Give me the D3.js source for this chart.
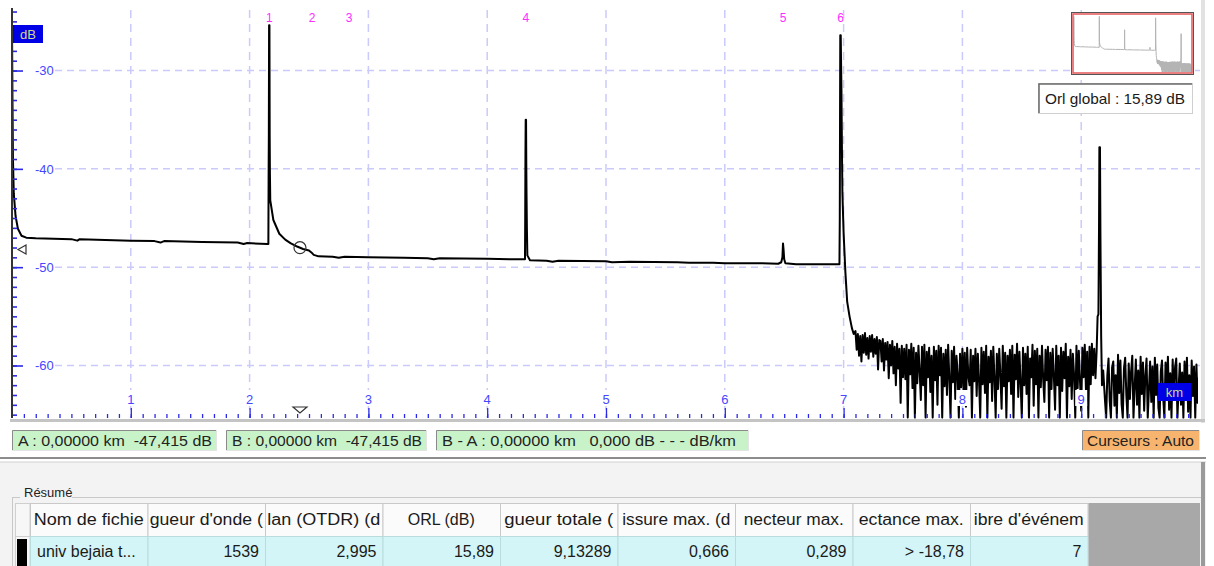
<!DOCTYPE html>
<html><head><meta charset="utf-8">
<script src="https://cdn.jsdelivr.net/npm/d3@7"></script>
<style>
body{margin:0;background:#fff;}
text{font-family:"Liberation Sans",Arial,sans-serif;}
</style>
</head><body>
<svg id="c" width="1214" height="566"></svg>
<script>
// ---------------- DATA ----------------
const yTickValues = [-30, -40, -50, -60];
const yTickLabels = ["-30", "-40", "-50", "-60"];
const xTickValues = [1, 2, 3, 4, 5, 6, 7, 8, 9];
const xTickLabels = ["1", "2", "3", "4", "5", "6", "7", "8", "9"];
const eventLabels = ["1", "2", "3", "4", "5", "6"];
const eventKm = [2.167, 2.525, 2.837, 4.325, 6.49, 6.974];

// fibre section keypoints (km, dB)
const fiberKm = [0, 0.004, 0.008, 0.015, 0.03, 0.05, 0.08, 0.12, 0.2, 0.5, 0.55, 0.57, 1.0, 1.2, 1.25, 1.28, 1.6, 1.9, 1.95, 1.98, 2.15,
  2.158, 2.160, 2.162, 2.164, 2.167, 2.169, 2.171, 2.174, 2.2, 2.25, 2.3, 2.344, 2.4, 2.45, 2.5, 2.52, 2.54, 2.58, 2.7, 2.75, 2.8, 3.0, 3.3, 3.5, 3.55, 3.6, 4.0, 4.2, 4.31,
  4.318, 4.320, 4.322, 4.324, 4.327, 4.329, 4.331, 4.334, 4.338, 4.36, 4.5, 4.55, 4.6, 5.0, 5.05, 5.2, 5.6, 5.7, 5.9, 6.0, 6.3, 6.45,
  6.475, 6.485, 6.49, 6.495, 6.5, 6.51, 6.6, 6.9, 6.965,
  6.968, 6.970, 6.972, 6.976, 6.979, 6.982, 6.986, 6.99, 7.0, 7.015, 7.03, 7.05, 7.07, 7.085];
const fiberDb = [-25.4, -33, -39, -42.5, -44.8, -46.1, -46.8, -47.0, -47.05, -47.15, -47.3, -47.15, -47.3, -47.35, -47.5, -47.35, -47.45, -47.5, -47.65, -47.55, -47.65,
  -47.65, -41, -36.5, -25.4, -25.4, -36.5, -40.5, -43.2, -45.2, -46.6, -47.2, -47.55, -47.9, -48.15, -48.3, -48.5, -48.75, -48.9, -48.95, -49.05, -48.95, -49.0, -49.05, -49.1, -49.2, -49.1, -49.15, -49.2, -49.2,
  -49.2, -45, -38.5, -35.0, -35.0, -39.5, -42.5, -46, -48.8, -49.3, -49.35, -49.45, -49.35, -49.4, -49.5, -49.45, -49.5, -49.55, -49.55, -49.6, -49.6, -49.65,
  -49.5, -49.0, -47.6, -48.3, -49.2, -49.6, -49.7, -49.7, -49.7,
  -45, -35, -26.4, -26.4, -29.5, -32.2, -38, -42.5, -46.5, -50.5, -53.5, -55.0, -56.2, -56.8];

// noise after the fibre end, sampled every 0.01 km from 7.10 km
const noiseStartKm = 7.10;
const noiseStepKm = 0.01;
const noiseDb = [
  -56.5, -58.4, -56.8, -59.0, -57.0, -59.6, -56.9, -58.7, -56.7, -58.9,
  -57.2, -59.3, -57.0, -58.6, -56.9, -59.1, -57.3, -58.8, -57.1, -60.4,
  -57.4,
  -57.5, -59.6, -57.3, -60.5, -57.7, -59.4, -57.6, -61.3, -57.9, -60.0,
  -57.5, -60.8, -58.1, -62.0, -57.8, -60.3, -58.3, -63.8, -58.0, -61.2,
  -58.3, -61.4, -57.9, -65.3, -58.4, -60.9, -57.8, -62.3, -58.2, -65.3,
  -58.7, -61.8, -58.0, -60.6, -63.5, -58.1, -62.0, -57.9, -65.3, -58.6,
  -61.2, -58.2, -62.7, -59.0, -65.3, -58.1, -61.5, -58.5, -64.0, -58.0,
  -61.0, -58.2, -65.3, -58.8, -62.1, -58.4, -63.0, -57.9, -61.3, -65.3,
  -58.5, -61.7, -58.1, -63.4, -59.0, -60.8, -65.3, -58.8, -62.2, -58.3,
  -62.6, -58.7, -64.2, -58.2, -61.1, -62.0, -58.4, -65.3, -59.0, -61.6,
  -58.3, -63.1, -58.8, -61.5, -65.3, -58.2, -61.9, -58.6, -62.8, -58.0,
  -65.3, -59.1, -61.7, -58.5, -63.6, -58.1, -61.3, -65.3, -58.8, -62.4,
  -58.3, -61.0, -64.4, -58.0, -62.1, -58.7, -65.3, -59.0, -61.6, -58.4,
  -62.9, -58.0, -65.3, -58.9, -61.4, -57.8, -63.2, -58.6, -61.8, -65.3,
  -58.2, -62.0, -58.8, -62.9, -58.1, -65.3, -59.3, -61.2, -57.9, -64.1,
  -58.5, -61.9, -58.3, -65.3, -59.0, -62.2, -58.0, -61.4, -63.7, -58.4,
  -61.5, -58.1, -65.3, -58.7, -62.4, -58.3, -61.1, -64.5, -58.0, -62.0,
  -59.0, -65.3, -58.2, -62.6, -58.6, -61.3, -57.8, -65.3, -59.1, -62.1,
  -58.4, -63.4, -58.8, -61.0, -65.3, -58.0, -62.3, -58.5, -61.6, -64.6,
  -58.2, -61.2, -57.9, -62.5, -58.6, -65.3, -58.1, -61.9, -57.8, -61.0,
  -58.3, -61.3];

// reflection at the far end
const endSpikeKm = [9.13, 9.138, 9.145, 9.15, 9.153, 9.158, 9.162, 9.168, 9.175, 9.185];
const endSpikeDb = [-58.5, -55.0, -54.8, -46, -37.8, -37.8, -47, -57, -62, -60.5];

// tail noise, every 0.01 km from 9.20 km
const tailStartKm = 9.20;
const tailStepKm = 0.01;
const tailDb = [
  -63.5, -65.3, -61.0, -59.3, -63.6, -65.3, -60.2, -59.6, -64.1, -61.0,
  -65.3, -58.9, -62.8, -59.5, -63.9, -65.3, -60.3, -59.2, -63.0, -65.3,
  -59.8, -63.4, -60.6, -59.0, -65.3, -62.2, -59.4, -64.0, -60.5, -65.3,
  -59.1, -62.9, -59.7, -64.6, -61.0, -59.3, -65.3, -62.5, -59.6, -63.7,
  -60.1, -65.3, -59.2, -63.0, -59.9, -64.3, -65.3, -60.6, -59.5, -63.2,
  -65.3, -59.7, -62.6, -59.1, -64.5, -60.8, -65.3, -59.4, -63.4, -60.2,
  -59.3, -65.3, -62.3, -59.8, -64.0, -60.7, -65.3, -59.6, -62.9, -59.2,
  -64.7, -61.0, -65.3, -59.5, -63.1, -60.1, -65.3, -59.9, -63.8, -61.3,
  -65.3];

const cursorMarkerKm = 2.424;
const cursorLevelDb = -48.2;

const statusTexts = ["A : 0,00000 km  -47,415 dB", "B : 0,00000 km  -47,415 dB", "B - A : 0,00000 km   0,000 dB - - - dB/km"];
const cursorModeText = "Curseurs : Auto";
const orlText = "Orl global : 15,89 dB";
const tableTitle = "Résumé";
const tableHeaders = ["Nom de fichie", "gueur d'onde (", "lan (OTDR) (d", "ORL (dB)", "gueur totale (", "issure max. (d", "necteur max.", "ectance max.", "ibre d'événem"];
const tableValues = ["univ bejaia t...", "1539", "2,995", "15,89", "9,13289", "0,666", "0,289", "> -18,78", "7"];

// ---------------- DRAW ----------------
const W = 1214, H = 566;
const svg = d3.select("#c");
svg.append("rect").attr("width", W).attr("height", H).attr("fill", "#fff");

const P = {l: 12, r: 1200, t: 8, b: 418};
const x = d3.scaleLinear().domain([0, 10]).range([P.l, P.r]);
const y = d3.scaleLinear().domain([-65.34, -23.64]).range([P.b, P.t]);

// build trace
const pts = [];
fiberKm.forEach((k, i) => pts.push([k, fiberDb[i]]));
noiseDb.forEach((v, i) => pts.push([noiseStartKm + i * noiseStepKm, v]));
endSpikeKm.forEach((k, i) => pts.push([k, endSpikeDb[i]]));
tailDb.forEach((v, i) => pts.push([tailStartKm + i * tailStepKm, v]));

const defs = svg.append("defs");
defs.append("clipPath").attr("id", "plotclip").append("rect")
  .attr("x", P.l).attr("y", P.t).attr("width", P.r - P.l - 2).attr("height", P.b - P.t + 1);

// grid
const gridColor = "#cacafc";
svg.append("g").selectAll("line").data(xTickValues).join("line")
  .attr("x1", d => x(d)).attr("x2", d => x(d)).attr("y1", 10).attr("y2", P.b)
  .attr("stroke", gridColor).attr("stroke-width", 1.5).attr("stroke-dasharray", "8,6");
svg.append("g").selectAll("line").data(yTickValues).join("line")
  .attr("x1", 55).attr("x2", P.r).attr("y1", d => y(d)).attr("y2", d => y(d))
  .attr("stroke", gridColor).attr("stroke-width", 1.5).attr("stroke-dasharray", "7,5");

// chart borders
svg.append("rect").attr("x", 1201).attr("y", 0).attr("width", 4).attr("height", 423).attr("fill", "#e2e2e2");
svg.append("rect").attr("x", 10).attr("y", 419).attr("width", 1195).attr("height", 3).attr("fill", "#c4c4c4");

// trace
const line = d3.line().x(d => x(d[0])).y(d => y(d[1]));
svg.append("path").datum(pts).attr("d", line).attr("clip-path", "url(#plotclip)")
  .attr("fill", "none").attr("stroke", "#000").attr("stroke-width", 2).attr("stroke-linejoin", "round");

// left axis
const axisBlue = "#2a2ae6";
const labelBlue = "#4646ff";
const yMinor = d3.range(-65, -23);
const gL = svg.append("g").attr("transform", `translate(${P.l},0)`);
gL.call(d3.axisRight(y).tickValues(yMinor).tickSize(5).tickFormat(""));
gL.append("g").call(d3.axisRight(y).tickValues(yTickValues).tickSize(11).tickPadding(12).tickFormat((d, i) => yTickLabels[i]));
gL.selectAll(".domain").remove();
gL.selectAll(".tick line").attr("stroke", axisBlue).attr("stroke-width", 1.6);
gL.selectAll(".tick text").attr("fill", labelBlue).attr("font-size", 13).attr("font-family", "Liberation Sans, Arial, sans-serif");
svg.append("line").attr("x1", P.l).attr("x2", P.l).attr("y1", P.t).attr("y2", P.b)
  .attr("stroke", "#333").attr("stroke-width", 2);

// bottom axis
const xMinor = d3.range(1, 100).map(i => i / 10);
const gB = svg.append("g").attr("transform", `translate(0,${P.b})`);
gB.call(d3.axisTop(x).tickValues(xMinor).tickSize(4).tickFormat(""));
gB.append("g").call(d3.axisTop(x).tickValues(xTickValues).tickSize(10).tickFormat(""));
gB.selectAll(".domain").remove();
gB.selectAll(".tick line").attr("stroke", axisBlue).attr("stroke-width", 1.3);

const xl = svg.append("g").selectAll("g").data(xTickValues).join("g")
  .attr("transform", d => `translate(${x(d)},0)`);
xl.append("rect").attr("x", -6).attr("y", 390).attr("width", 12).attr("height", 16).attr("fill", "#fff");
xl.append("text").attr("y", 404).attr("text-anchor", "middle").attr("font-size", 13)
  .attr("fill", labelBlue).text((d, i) => xTickLabels[i]);

// unit boxes
svg.append("rect").attr("x", 13).attr("y", 25).attr("width", 30).attr("height", 18).attr("fill", "#0000e6");
svg.append("text").attr("x", 28).attr("y", 39).attr("text-anchor", "middle").attr("font-size", 13).attr("fill", "#d6d68a").text("dB");
svg.append("rect").attr("x", 1158).attr("y", 383).attr("width", 33).attr("height", 18).attr("fill", "#0000e6");
svg.append("text").attr("x", 1174.5).attr("y", 397).attr("text-anchor", "middle").attr("font-size", 13).attr("fill", "#d6d68a").text("km");

// event numbers
svg.append("g").selectAll("text").data(eventKm).join("text")
  .attr("x", d => x(d)).attr("y", 22).attr("text-anchor", "middle").attr("font-size", 12)
  .attr("fill", "#ff2cff").text((d, i) => eventLabels[i]);

// cursor markers
const markerY = d3.scaleLinear().domain(fiberKm).range(fiberDb)(cursorMarkerKm);
svg.append("circle").attr("cx", x(cursorMarkerKm)).attr("cy", y(markerY)).attr("r", 6)
  .attr("fill", "none").attr("stroke", "#333").attr("stroke-width", 1.2);
const ly = y(cursorLevelDb);
svg.append("path").attr("d", `M18,${ly} L26,${ly - 4.5} L26,${ly + 4.5} Z`).attr("fill", "#fff").attr("stroke", "#333").attr("stroke-width", 1.2);
const bx = x(cursorMarkerKm);
svg.append("path").attr("d", `M${bx - 7},407 L${bx + 7},407 L${bx},413 Z`).attr("fill", "#fff").attr("stroke", "#333").attr("stroke-width", 1.2);

// minimap
const mx = d3.scaleLinear().domain([0, 10]).range([1074, 1191]);
const my = d3.scaleLinear().domain([-65.34, -23.64]).range([72, 14]);
svg.append("rect").attr("x", 1071.5).attr("y", 12.5).attr("width", 122).attr("height", 62).attr("fill", "#fff").attr("stroke", "#555").attr("stroke-width", 1);
defs.append("clipPath").attr("id", "miniclip").append("rect").attr("x", 1073).attr("y", 14).attr("width", 119).attr("height", 59);
svg.append("path").datum(pts).attr("d", d3.line().x(d => mx(d[0])).y(d => my(d[1])))
  .attr("clip-path", "url(#miniclip)").attr("fill", "none").attr("stroke", "#b4b4b4").attr("stroke-width", 1);
svg.append("rect").attr("x", 1073).attr("y", 14).attr("width", 119).attr("height", 59).attr("fill", "none").attr("stroke", "#e86060").attr("stroke-width", 1.6);

// ORL global box
svg.append("rect").attr("x", 1038.5).attr("y", 83.5).attr("width", 154).attr("height", 30).attr("fill", "#fff").attr("stroke", "#cfcfcf");
svg.append("path").attr("d", "M1039,113 L1039,84 L1192,84").attr("fill", "none").attr("stroke", "#6a6a6a").attr("stroke-width", 1.5);
svg.append("text").attr("x", 1045).attr("y", 104).attr("font-size", 15).attr("textLength", 140).attr("lengthAdjust", "spacingAndGlyphs")
  .attr("fill", "#1a1a1a").text(orlText);

// status bar
const statusBoxes = [{x: 12, w: 204, tl: 194}, {x: 226, w: 200, tl: 190}, {x: 436, w: 312, tl: 294}];
statusBoxes.forEach((b, i) => {
  svg.append("rect").attr("x", b.x + 0.5).attr("y", 430.5).attr("width", b.w).attr("height", 20).attr("fill", "#c8f2c8").attr("stroke", "#e4e4e4");
  svg.append("path").attr("d", `M${b.x + 0.5},450 L${b.x + 0.5},430.5 L${b.x + b.w},430.5`).attr("fill", "none").attr("stroke", "#8a8a8a");
  svg.append("text").attr("x", b.x + 6).attr("y", 446).attr("font-size", 15).attr("fill", "#222")
    .attr("textLength", b.tl).attr("lengthAdjust", "spacingAndGlyphs")
    .style("white-space", "pre").text(statusTexts[i]);
});
svg.append("rect").attr("x", 1082.5).attr("y", 430.5).attr("width", 117).attr("height", 20).attr("fill", "#f6b46e").attr("stroke", "#e4e4e4");
svg.append("path").attr("d", "M1082.5,450 L1082.5,430.5 L1199,430.5").attr("fill", "none").attr("stroke", "#8a8a8a");
svg.append("text").attr("x", 1087).attr("y", 446).attr("font-size", 15).attr("textLength", 107).attr("lengthAdjust", "spacingAndGlyphs")
  .attr("fill", "#222").text(cursorModeText);

// splitter + lower panel
svg.append("rect").attr("x", 0).attr("y", 462).attr("width", 1206).attr("height", 104).attr("fill", "#f3f3f3");
svg.append("line").attr("x1", 0).attr("x2", 1206).attr("y1", 458).attr("y2", 458).attr("stroke", "#8c8c8c").attr("stroke-width", 2);
svg.append("line").attr("x1", 0).attr("x2", 1206).attr("y1", 462).attr("y2", 462).attr("stroke", "#d0d0d0").attr("stroke-width", 1);

// group box
svg.append("rect").attr("x", 12.5).attr("y", 497.5).attr("width", 1190).attr("height", 80).attr("fill", "none").attr("stroke", "#c8c8c8");
svg.append("rect").attr("x", 20).attr("y", 488).attr("width", 52).attr("height", 14).attr("fill", "#f3f3f3");
svg.append("text").attr("x", 24).attr("y", 497).attr("font-size", 13).attr("fill", "#222").text(tableTitle);

// table
const colX0 = 30, colW = 117.5, hdrY = 503, hdrH = 33, rowY = 536, rowH = 34;
const headerFit = [110, 113, 113, 0, 109, 108, 100, 105, 110];
const cols = d3.range(tableHeaders.length);
defs.selectAll("clipPath.cell").data(cols).join("clipPath").attr("class", "cell").attr("id", d => "cell" + d)
  .append("rect").attr("x", d => colX0 + d * colW + 1).attr("y", hdrY).attr("width", colW - 2).attr("height", 70);
// row header column
svg.append("rect").attr("x", 15.5).attr("y", hdrY + 0.5).attr("width", 14.5).attr("height", hdrH).attr("fill", "#f7f7f7").attr("stroke", "#cfcfcf");
svg.append("rect").attr("x", 15.5).attr("y", rowY + 0.5).attr("width", 14.5).attr("height", rowH).attr("fill", "#f7f7f7").attr("stroke", "#cfcfcf");
svg.append("rect").attr("x", 17).attr("y", rowY + 3).attr("width", 10).attr("height", rowH).attr("fill", "#000");

const hg = svg.append("g").selectAll("g").data(cols).join("g");
hg.append("rect").attr("x", d => colX0 + d * colW + 0.5).attr("y", hdrY + 0.5).attr("width", colW).attr("height", hdrH)
  .attr("fill", "#fbfbfb").attr("stroke", "#c9c9c9");
hg.append("rect").attr("x", d => colX0 + d * colW + 0.5).attr("y", rowY + 0.5).attr("width", colW).attr("height", rowH)
  .attr("fill", "#d3f5f7").attr("stroke", "#b9dcdc");
hg.append("text").attr("clip-path", d => `url(#cell${d})`)
  .attr("x", d => colX0 + d * colW + colW / 2).attr("y", hdrY + 22).attr("text-anchor", "middle")
  .attr("font-size", 16).attr("fill", "#1a1a1a")
  .each(function (d) { if (headerFit[d] > 0) d3.select(this).attr("textLength", headerFit[d]).attr("lengthAdjust", "spacingAndGlyphs"); })
  .text(d => tableHeaders[d]);
hg.append("text").attr("clip-path", d => `url(#cell${d})`)
  .attr("x", d => d === 0 ? colX0 + 7 : colX0 + (d + 1) * colW - 6).attr("y", rowY + 21)
  .attr("text-anchor", d => d === 0 ? "start" : "end")
  .attr("font-size", 16).attr("fill", "#1a1a1a").text(d => tableValues[d]);
// grey filler
svg.append("rect").attr("x", colX0 + tableHeaders.length * colW + 1).attr("y", hdrY).attr("width", 1200 - (colX0 + tableHeaders.length * colW + 1)).attr("height", 70).attr("fill", "#a8a8a8");
svg.append("rect").attr("x", 1201).attr("y", 462).attr("width", 4).attr("height", 104).attr("fill", "#9a9a9a");
</script>
</body></html>
